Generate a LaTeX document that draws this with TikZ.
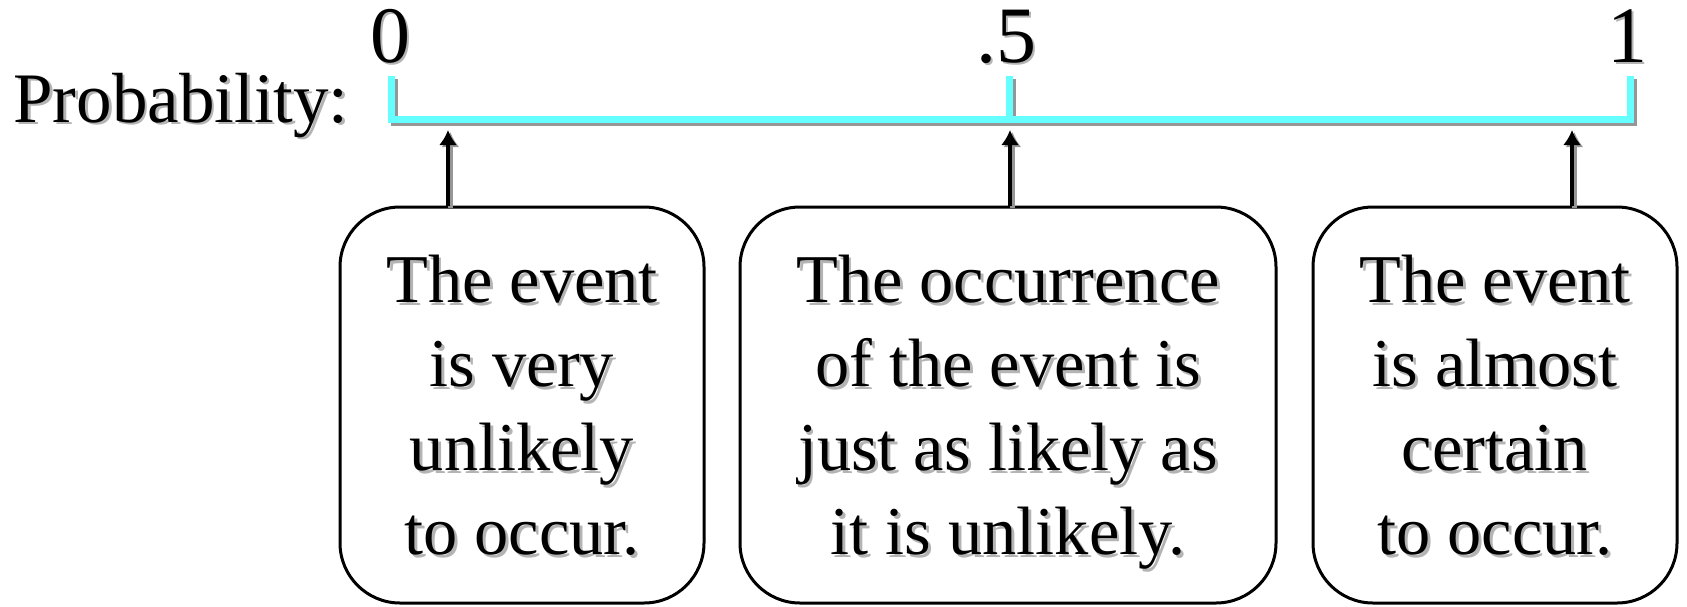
\documentclass[tikz,border=0pt]{standalone}
\usepackage{fontspec}
\setmainfont{Liberation Serif}
\usetikzlibrary{arrows.meta}
\definecolor{axiscyan}{RGB}{102,255,255}
\definecolor{lineshade}{RGB}{150,150,150}
\definecolor{textshade}{RGB}{180,180,180}
% text with a soft drop shadow behind it
\newcommand\shd[1]{\leavevmode\rlap{\kern1.4pt\raisebox{-1.4pt}{\textcolor{textshade}{#1}}}#1}
\begin{document}
\begin{tikzpicture}[x=0.5pt,y=-0.5pt,
  lbl/.style={inner sep=0pt,font=\fontsize{35.5}{40}\selectfont},
  num/.style={inner sep=0pt,font=\fontsize{40}{46}\selectfont},
  axisline/.style={draw=axiscyan,line width=3.5pt,line join=miter,line cap=butt},
  axisshade/.style={draw=lineshade,line width=3.5pt,line join=miter,line cap=butt,
    transform canvas={xshift=1.5pt,yshift=-1.5pt}},
  evbox/.style={draw=black,line width=1.5pt,rounded corners=30pt,inner sep=0pt,
    align=center,text depth=0pt,
    font=\fontsize{34.2}{42}\selectfont},
  pointer/.style={draw=black,line width=2.2pt,-{Latex[length=7.5pt,width=9pt]}},
  pointershade/.style={draw=lineshade,line width=2.2pt,-{Latex[length=7.5pt,width=9pt]},
    transform canvas={xshift=1.2pt,yshift=-1pt}}]
\useasboundingbox (0,0) rectangle (1687,606);

% scale end points and ticks
\coordinate (a0) at (391,76);
\coordinate (a0b) at (391,119);
\coordinate (ah) at (1009,76);
\coordinate (ahb) at (1009,119);
\coordinate (a1) at (1630,76);
\coordinate (a1b) at (1630,119);

\draw[axisshade] (a0) -- (a0b) -- (a1b) -- (a1);
\draw[axisshade] (ah) -- (ahb);
\draw[axisline] (a0) -- (a0b) -- (a1b) -- (a1);
\draw[axisline] (ah) -- (ahb);

% labels
\node[lbl,anchor=base west] (prob) at (13,122) {\shd{Probability:}};
\node[num,anchor=base] (n0) at (390,62) {\shd{0}};
\node[num,anchor=base] (nh) at (1006,62) {\shd{.5}};
\node[num,anchor=base] (n1) at (1627,62) {\shd{1}};

% explanation boxes
\node[evbox,minimum width=182pt,minimum height=198pt] (b1) at (522,405)
  {\shd{The event}\\\shd{is very}\\\shd{unlikely}\\\shd{to occur.}};
\node[evbox,minimum width=268pt,minimum height=198pt] (b2) at (1008,405)
  {\shd{The occurrence}\\\shd{of the event is}\\\shd{just as likely as}\\\shd{it is unlikely.}};
\node[evbox,minimum width=182pt,minimum height=198pt] (b3) at (1495,405)
  {\shd{The event}\\\shd{is almost}\\\shd{certain}\\\shd{to occur.}};

% arrow tips just under the scale
\coordinate (t1) at (448,130);
\coordinate (t2) at (1010,130);
\coordinate (t3) at (1572,130);

\foreach \b/\t in {b1/t1,b2/t2,b3/t3}{
  \draw[pointershade] (\b.north -| \t) -- (\t);
}
\foreach \b/\t in {b1/t1,b2/t2,b3/t3}{
  \draw[pointer] (\b.north -| \t) -- (\t);
}
\end{tikzpicture}
\end{document}
